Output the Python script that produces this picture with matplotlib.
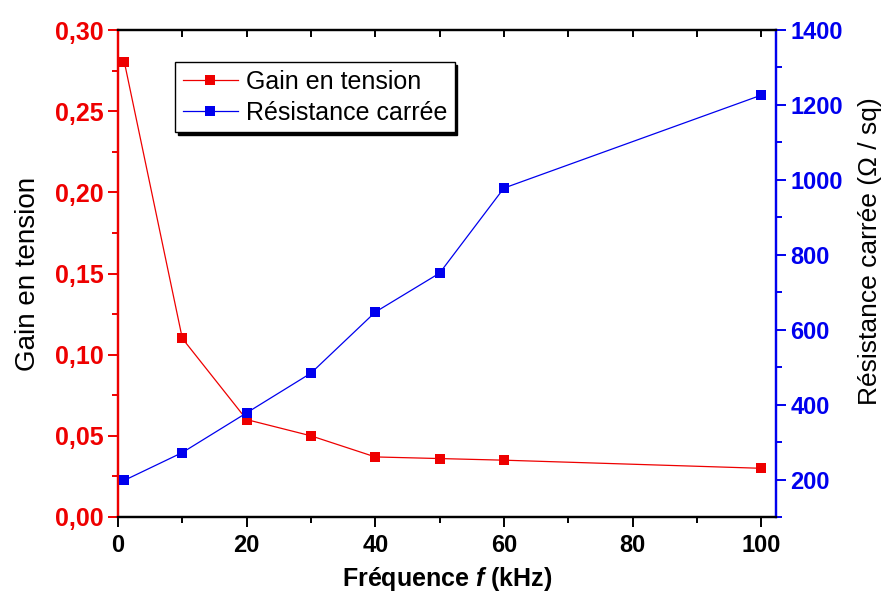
import matplotlib
matplotlib.use("Agg")
import matplotlib.pyplot as plt
from matplotlib.ticker import MultipleLocator, FuncFormatter

plt.rcParams['font.family'] = ['Liberation Sans', 'DejaVu Sans']
plt.rcParams['mathtext.fontset'] = 'custom'
plt.rcParams['mathtext.it'] = 'Liberation Sans:bold:italic'
plt.rcParams['mathtext.rm'] = 'Liberation Sans:bold'

freq = [1, 10, 20, 30, 40, 50, 60, 100]
gain = [0.280, 0.110, 0.060, 0.050, 0.037, 0.036, 0.035, 0.030]
resistance = [198, 272, 378, 484, 647, 751, 978, 1226]

RED = '#ee0000'
BLUE = '#0000ee'

fig = plt.figure(figsize=(8.86, 5.92), dpi=100)
ax = fig.add_axes([0.1332, 0.1267, 0.7426, 0.8226])
ax2 = ax.twinx()

l1, = ax.plot(freq, gain, '-s', color=RED, lw=0.9, markersize=6.5,
              markeredgewidth=0, label='Gain en tension', zorder=3)
l2, = ax2.plot(freq, resistance, '-s', color=BLUE, lw=0.9, markersize=6.5,
               markeredgewidth=0, label='Résistance carrée', zorder=3)

ax.set_xlim(0, 102.3)
ax.set_ylim(0, 0.30)
ax2.set_ylim(100, 1400)

ax.xaxis.set_major_locator(MultipleLocator(20))
ax.xaxis.set_minor_locator(MultipleLocator(10))
ax.yaxis.set_major_locator(MultipleLocator(0.05))
ax.yaxis.set_minor_locator(MultipleLocator(0.025))
ax.yaxis.set_major_formatter(FuncFormatter(lambda v, p: f"{v:.2f}".replace('.', ',')))
ax2.yaxis.set_major_locator(MultipleLocator(200))
ax2.yaxis.set_minor_locator(MultipleLocator(100))

for s in ['left', 'right', 'top', 'bottom']:
    ax.spines[s].set_linewidth(1.6)
    ax2.spines[s].set_linewidth(1.6)
ax.spines['left'].set_color(RED)
ax2.spines['left'].set_color(RED)
ax.spines['right'].set_color(BLUE)
ax2.spines['right'].set_color(BLUE)

ax.tick_params(axis='x', which='major', direction='out', length=7, width=1.4,
               labelsize=17, pad=5)
ax.tick_params(axis='x', which='minor', direction='out', length=4, width=1.4)
ax.tick_params(axis='y', which='major', direction='out', length=7, width=1.4,
               color=RED, labelcolor=RED, labelsize=18)
ax.tick_params(axis='y', which='minor', direction='out', length=4, width=1.4, color=RED)
ax2.tick_params(axis='y', which='major', direction='out', length=7, width=1.4,
                color=BLUE, labelcolor=BLUE, labelsize=17)
ax2.tick_params(axis='y', which='minor', direction='out', length=4, width=1.4, color=BLUE)
for tl in ax.get_yticklabels() + ax2.get_yticklabels() + ax.get_xticklabels():
    tl.set_fontweight('bold')

# top ticks drawn inward
ax.xaxis.set_ticks_position('both')
for t in ax.xaxis.get_major_ticks() + ax.xaxis.get_minor_ticks():
    t.tick2line.set_marker(3)  # TICKDOWN
    t.tick2line.set_markersize(5)

ax.set_ylabel('Gain en tension', fontsize=20, labelpad=10)
ax2.set_ylabel('Résistance carrée (Ω / sq)', fontsize=19)
ax2.yaxis.set_label_coords(1.124, 0.545)
ax.set_xlabel('Fréquence $f$ (kHz)', fontsize=18, fontweight='bold', labelpad=6)

leg = ax.legend([l1, l2], ['Gain en tension', 'Résistance carrée'],
                loc='upper left', bbox_to_anchor=(0.087, 0.934), borderaxespad=0,
                fontsize=18, frameon=True, fancybox=False, edgecolor='black',
                shadow={'color': 'black', 'alpha': 1}, handlelength=2.2,
                borderpad=0.3, labelspacing=0.28, handletextpad=0.32)
leg.get_frame().set_linewidth(1.0)
leg.set_zorder(10)
ax2.set_zorder(ax.get_zorder() + 1)
ax2.patch.set_visible(False)
leg.remove()
ax2.add_artist(leg)

fig.savefig('out.png', dpi=100)
